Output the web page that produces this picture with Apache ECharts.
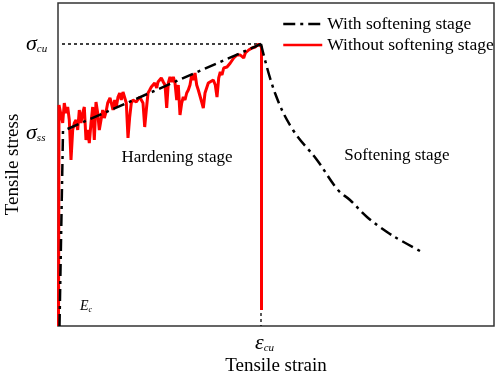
<!DOCTYPE html>
<html>
<head>
<meta charset="utf-8">
<script src="https://cdn.jsdelivr.net/npm/echarts@6/dist/echarts.min.js"></script>
<style>
  html, body { margin: 0; padding: 0; background: #fff; }
  #chart { width: 498px; height: 375px; }
</style>
</head>
<body>
<div id="chart"></div>
<script>
// strain / stress in arbitrary units
const peak = [203, 282];
const ssLevel = 192;

// with softening stage: linear hardening then softening branch
const withHardening = [[1.5, 0], [5, 195], [203, 282]];
const withSoftening = [
  [203, 282], [217, 233], [235, 196], [259, 166], [280, 136], [292, 126],
  [309, 109], [329, 94], [342, 86], [362, 75]
];

// without softening stage: noisy hardening, sudden drop at peak
const withoutSoftening = [
  [0.5, 0], [1, 221], [3, 219], [4.7, 203], [6.3, 223], [8, 213], [9.7, 219],
  [11.3, 206], [13, 166], [14.7, 196], [16.3, 203], [18, 206], [19.7, 196],
  [21.3, 216], [23, 203], [24.7, 213], [26.3, 219], [28, 186], [29.7, 196],
  [31.3, 183], [33, 203], [34.7, 219], [36.3, 186], [38, 224], [39.7, 213],
  [41.3, 196], [43, 206], [44.7, 216], [46.3, 208], [48, 214], [49.7, 223],
  [52, 228], [53.3, 223], [55, 216], [56.7, 226], [58.3, 219], [60, 229],
  [61.7, 233], [63.3, 226], [65, 234], [66.7, 233], [68.3, 223], [70, 188],
  [71.7, 209], [73.3, 223], [75, 226], [78.3, 224], [81.7, 229], [83.3, 231],
  [85, 223], [86.7, 199], [88.3, 216], [90, 233], [91.7, 236], [93.3, 239],
  [96.7, 243], [98.7, 238], [100, 244], [103.3, 248], [105.3, 244], [107, 241],
  [108.7, 218], [110.3, 243], [112, 249], [113.7, 244], [115.3, 249], [117, 243],
  [118.7, 226], [120.3, 241], [122, 211], [123.7, 223], [125.3, 229], [127, 226],
  [128.7, 233], [130.3, 236], [132, 241], [133.7, 251], [135.3, 246], [137, 253],
  [138.7, 241], [140.3, 236], [142, 238], [143.7, 224], [145.3, 218], [147, 233],
  [148.7, 234], [150.3, 243], [152, 244], [155.3, 246], [157.3, 241], [159, 229],
  [160.7, 248], [162.3, 254], [164, 251], [165.7, 258], [167.3, 256], [169, 259],
  [172.3, 263], [174, 264], [175.7, 268], [179, 271], [182.3, 271], [184, 273],
  [185.7, 268], [187.3, 273], [190.7, 276], [194, 278], [197.3, 279], [200.7, 282],
  [202.3, 283], [203.5, 279], [203.5, 16]
];

const guideLines = [[4, 282], [203, 282], [203, 0]];

const serif = '"Liberation Serif", "DejaVu Serif", serif';
const dashDot = [12, 5, 3, 5];

var myChart = echarts.init(document.getElementById('chart'));
myChart.setOption({
  animation: false,
  textStyle: { fontFamily: serif },
  grid: {
    left: 58, right: 4, top: 3, bottom: 49,
    outerBoundsMode: 'none', containLabel: false,
    show: true, borderColor: '#333', borderWidth: 1.5
  },
  xAxis: {
    type: 'value', min: 0, max: 436,
    axisLine: { show: false }, axisTick: { show: false },
    axisLabel: { show: false }, splitLine: { show: false },
    name: 'Tensile strain', nameLocation: 'middle', nameGap: 31,
    nameTextStyle: { fontSize: 19, color: '#000', fontFamily: serif }
  },
  yAxis: {
    type: 'value', min: 0, max: 323,
    axisLine: { show: false }, axisTick: { show: false },
    axisLabel: { show: false }, splitLine: { show: false },
    name: 'Tensile stress', nameLocation: 'middle', nameGap: 35,
    nameTextStyle: { fontSize: 19, color: '#000', fontFamily: serif }
  },
  legend: {
    left: 277, top: 10, orient: 'vertical', itemGap: 3,
    itemWidth: 39, itemHeight: 18,
    textStyle: { fontSize: 17.5, color: '#000', fontFamily: serif },
    itemStyle: { color: 'transparent', borderColor: 'transparent', borderWidth: 0 },
    data: [
      { name: 'With softening stage', lineStyle: { type: dashDot, width: 2.5 } },
      { name: 'Without softening stage', lineStyle: { width: 2.5 } }
    ]
  },
  series: [
    {
      type: 'line', name: 'guide', data: guideLines, symbol: 'none',
      lineStyle: { color: '#000', width: 1.3, type: [3, 3] }, z: 1
    },
    {
      type: 'line', name: 'Without softening stage', data: withoutSoftening,
      symbol: 'none', color: '#ff0000',
      lineStyle: { color: '#ff0000', width: 3 }, z: 3
    },
    {
      type: 'line', name: 'With softening stage', data: withHardening,
      symbol: 'none', color: '#000',
      lineStyle: { color: '#000', width: 2.5, type: dashDot }, z: 4
    },
    {
      type: 'line', name: 'With softening stage', data: withSoftening,
      symbol: 'none', smooth: 0.4, color: '#000',
      lineStyle: { color: '#000', width: 2.5, type: dashDot }, z: 4
    }
  ]
});

// symbolic labels placed at data positions
const cu = myChart.convertToPixel({ gridIndex: 0 }, [0, peak[1]]);
const ss = myChart.convertToPixel({ gridIndex: 0 }, [0, ssLevel]);
const ecu = myChart.convertToPixel({ gridIndex: 0 }, [peak[0], 0]);
const rich = {
  s: { fontFamily: serif, fontStyle: 'italic', fontSize: 22, color: '#000' },
  sub: { fontFamily: serif, fontStyle: 'italic', fontSize: 11, color: '#000', padding: [10, 0, 0, 0] }
};
myChart.setOption({
  graphic: [
    { type: 'text', x: cu[0] - 32, y: cu[1], style: { text: '{s|σ}{sub|cu}', rich: rich, verticalAlign: 'middle' } },
    { type: 'text', x: ss[0] - 32, y: ss[1] - 1, style: { text: '{s|σ}{sub|ss}', rich: rich, verticalAlign: 'middle' } },
    { type: 'text', x: ecu[0] - 6, y: ecu[1] + 17, style: { text: '{s|ε}{sub|cu}', rich: rich, verticalAlign: 'middle' } },
    { type: 'text', x: 80, y: 306, style: { text: '{e|E}{sub|c}', verticalAlign: 'middle', rich: {
      e: { fontFamily: serif, fontStyle: 'italic', fontSize: 14, color: '#000' },
      sub: { fontFamily: serif, fontStyle: 'italic', fontSize: 8, color: '#000', padding: [7, 0, 0, 0] }
    } } },
    { type: 'text', x: 177, y: 158, style: { text: 'Hardening stage', font: '17px ' + serif, fill: '#000', align: 'center', verticalAlign: 'middle' } },
    { type: 'text', x: 397, y: 156, style: { text: 'Softening stage', font: '17px ' + serif, fill: '#000', align: 'center', verticalAlign: 'middle' } }
  ]
});
</script>
</body>
</html>
